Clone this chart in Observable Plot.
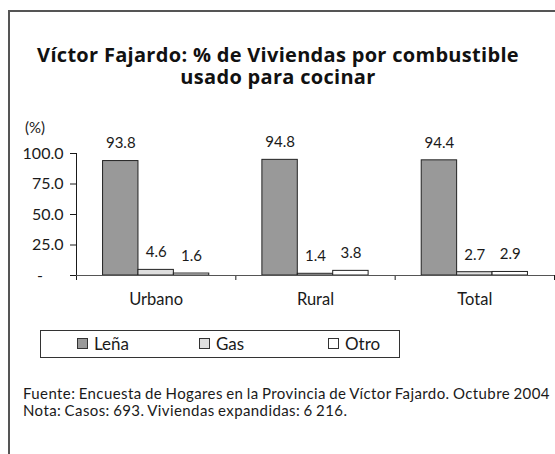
<!DOCTYPE html>
<html>
<head>
<meta charset="utf-8">
<script src="https://cdn.jsdelivr.net/npm/d3@7"></script>
<script src="https://cdn.jsdelivr.net/npm/@observablehq/plot@0.6"></script>
<style>
  html, body { margin: 0; padding: 0; background: #fff; }
  body { width: 555px; height: 454px; position: relative; overflow: hidden; font-family: Lato, "Open Sans", sans-serif; color: #1a1a1a; }
  #frame { position: absolute; left: 8px; top: 10px; width: 560px; height: 460px; border-top: 2px solid #555; border-left: 2px solid #555; }
  #title { position: absolute; left: 8px; width: 540px; top: 44px; text-align: center; font-family: "Open Sans", Lato, sans-serif; font-weight: bold; font-size: 20px; line-height: 21.5px; letter-spacing: 0.3px; color: #111; }
  #unit { position: absolute; left: 25px; top: 118px; font-size: 15px; }
  #chart { position: absolute; left: 0; top: 110px; }
  #legend { position: absolute; left: 40px; top: 330px; width: 358px; height: 26px; border: 1.5px solid #333; font-size: 17px; }
  .item { position: absolute; top: 2px; line-height: 22px; }
  .sw { display: inline-block; width: 9px; height: 9px; border: 1px solid #333; margin-right: 6px; vertical-align: 1px; }
  #foot { position: absolute; left: 23px; top: 385px; font-size: 15px; line-height: 17px; letter-spacing: 0.4px; word-spacing: -0.8px; white-space: nowrap; }
</style>
</head>
<body>
<div id="frame"></div>
<div id="title">Víctor Fajardo: % de Viviendas por combustible<br>usado para cocinar</div>
<div id="unit">(%)</div>
<div id="chart"></div>
<div id="legend"></div>
<div id="foot">Fuente: Encuesta de Hogares en la Provincia de Víctor Fajardo. Octubre 2004<br>Nota: Casos: 693. Viviendas expandidas: 6 216.</div>
<script>
const categories = ["Urbano", "Rural", "Total"];
const series = ["Leña", "Gas", "Otro"];
const lena = [93.8, 94.8, 94.4];
const gas = [4.6, 1.4, 2.7];
const otro = [1.6, 3.8, 2.9];
const yTicks = [0, 25, 50, 75, 100];
const colors = ["#999999", "#dedede", "#ffffff"];

const valuesBySeries = [lena, gas, otro];
const rows = [];
categories.forEach((c, ci) => {
  series.forEach((s, si) => {
    rows.push({category: c, ci, series: s, value: valuesBySeries[si][ci]});
  });
});

// bars of a group fill the central 2/3 of each category slot
const inner = d3.scaleBand().domain(series).range([1/6, 5/6]).paddingInner(0).paddingOuter(0);
const catPos = categories.map((c, i) => ({category: c, pos: i + 0.5}));

const chart = Plot.plot({
  width: 555,
  height: 200,
  marginLeft: 76,
  marginRight: 1,
  marginTop: 43,
  marginBottom: 35,
  style: {fontFamily: "Lato, 'Open Sans', sans-serif", fontSize: "16px", color: "#1a1a1a", background: "transparent", overflow: "visible"},
  x: {domain: [0, categories.length], ticks: d3.range(categories.length + 1), tickFormat: () => "", tickSize: 5, label: null},
  y: {domain: [0, 100], ticks: yTicks, tickFormat: d => d === 0 ? "-\u2007\u2007\u2009" : d.toFixed(1), tickSize: 6, tickPadding: 7, line: true, label: null},
  color: {domain: series, range: colors},
  marks: [
    Plot.rectY(rows, {
      x1: d => d.ci + inner(d.series),
      x2: d => d.ci + inner(d.series) + inner.bandwidth(),
      y1: 0,
      y2: "value",
      fill: "series",
      stroke: "#222",
      strokeWidth: 1
    }),
    Plot.ruleY([0], {stroke: "#555"}),
    Plot.text(rows, {
      x: d => d.ci + inner(d.series) + inner.bandwidth() / 2,
      y: "value",
      text: d => d.value.toFixed(1),
      dy: -17.5,
      fontSize: 15,
      fill: "#1a1a1a"
    }),
    Plot.text(catPos, {x: "pos", y: () => 0, text: "category", dy: 24, fontSize: 16.5, fill: "#1a1a1a"})
  ]
});
document.getElementById("chart").appendChild(chart);

const legend = document.getElementById("legend");
const itemLeft = [36, 158, 287];
series.forEach((s, i) => {
  const it = document.createElement("div");
  it.className = "item";
  it.style.left = itemLeft[i] + "px";
  it.innerHTML = `<span class="sw" style="background:${colors[i]}"></span>${s}`;
  legend.appendChild(it);
});
</script>
</body>
</html>
